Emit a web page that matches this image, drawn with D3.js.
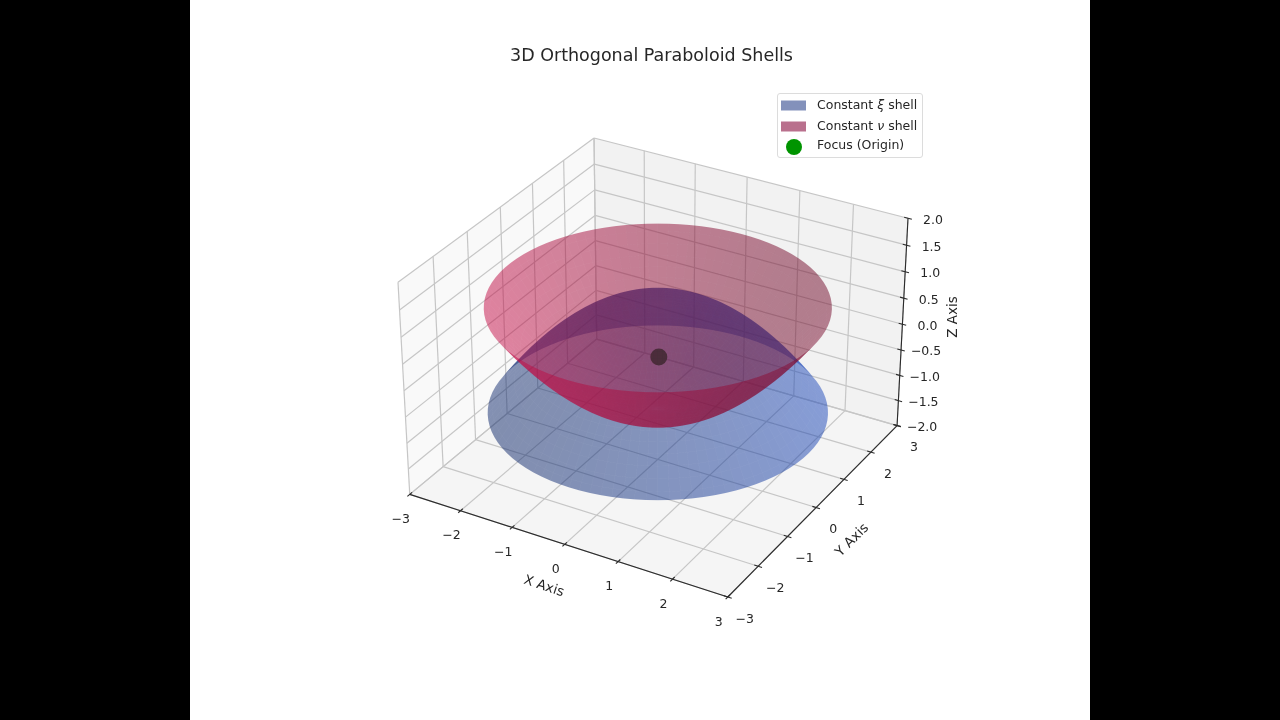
<!DOCTYPE html>
<html>
<head>
<meta charset="utf-8">
<script src="https://cdn.jsdelivr.net/npm/d3@7"></script>
<style>
  html, body { margin: 0; padding: 0; background: #000; }
  svg { display: block; filter: blur(0.4px); }
  text { font-family: "DejaVu Sans", sans-serif; fill: #262626; }
  #shells { position: absolute; left: 0; top: 0; filter: blur(0.3px); pointer-events: none; }
</style>
</head>
<body>
<svg id="chart" width="1280" height="720"></svg>
<canvas id="shells" width="1280" height="720"></canvas>
<script>
// values
const xTicks = [-3, -2, -1, 0, 1, 2, 3];
const yTicks = [-3, -2, -1, 0, 1, 2, 3];
const zTicks = [-2, -1.5, -1, -0.5, 0, 0.5, 1, 1.5, 2];

// shell profiles: height at each radius
const shellRadii = [0, 0.125, 0.25, 0.375, 0.5, 0.625, 0.75, 0.875, 1, 1.125, 1.25, 1.375, 1.5,
  1.625, 1.75, 1.875, 2, 2.125, 2.25, 2.375, 2.5, 2.625, 2.75, 2.828];
const xiShellZ = [1, 0.996, 0.984, 0.965, 0.938, 0.902, 0.859, 0.809, 0.75, 0.684, 0.609, 0.527, 0.438,
  0.34, 0.234, 0.121, 0, -0.129, -0.266, -0.41, -0.563, -0.723, -0.891, -1];
const nuShellZ = [-1, -0.996, -0.984, -0.965, -0.938, -0.902, -0.859, -0.809, -0.75, -0.684, -0.609, -0.527, -0.438,
  -0.34, -0.234, -0.121, 0, 0.129, 0.266, 0.41, 0.563, 0.723, 0.891, 1];
const focusPoint = [0, 0, 0];

const svg = d3.select("#chart");
svg.append("rect").attr("x", 190).attr("y", 0).attr("width", 900).attr("height", 720).attr("fill", "#fff");

// camera, close to a default 3d axes but a bit higher and with a flatter box
const elev = 32 * Math.PI / 180, azim = -60 * Math.PI / 180, dist = 10;
const boxNorm = 1.9057 / Math.sqrt(41);
const box = [4 * boxNorm, 4 * boxNorm, 2.88 * boxNorm];
const nx = d3.scaleLinear().domain([-3, 3]).range([0, box[0]]);
const ny = d3.scaleLinear().domain([-3, 3]).range([0, box[1]]);
const nz = d3.scaleLinear().domain([-2, 2]).range([0, box[2]]);
const mid = box.map(d => d / 2);
const w = [Math.cos(elev) * Math.cos(azim), Math.cos(elev) * Math.sin(azim), Math.sin(elev)];
const eye = mid.map((d, i) => d + dist * w[i]);
const cross = (a, b) => [a[1] * b[2] - a[2] * b[1], a[2] * b[0] - a[0] * b[2], a[0] * b[1] - a[1] * b[0]];
const dot = (a, b) => a[0] * b[0] + a[1] * b[1] + a[2] * b[2];
const unit = a => { const n = Math.hypot(...a); return a.map(d => d / n); };
const u = unit(cross([0, 0, 1], w));
const v = cross(w, u);

function view(p) {
  const q = [nx(p[0]) - eye[0], ny(p[1]) - eye[1], nz(p[2]) - eye[2]];
  const depth = -dot(q, w);
  return { sx: dot(q, u) / depth, sy: dot(q, v) / depth, depth };
}

// screen scales pinned on the box corners seen in the picture
const sxScale = d3.scaleLinear()
  .domain([view([-3, -3, 2]).sx, view([3, 3, 2]).sx]).range([398, 908]);
const syScale = d3.scaleLinear()
  .domain([view([3, -3, -2]).sy, view([-3, 3, 2]).sy]).range([597, 138]);
const project = p => { const c = view(p); return [sxScale(c.sx), syScale(c.sy)]; };
const lineGen = d3.line();
const polyPath = pts => lineGen(pts.map(project)) + "Z";

// panes
const panes = [
  { fill: "#f9f9f9", pts: [[-3, -3, -2], [-3, 3, -2], [-3, 3, 2], [-3, -3, 2]] },
  { fill: "#f2f2f2", pts: [[-3, 3, -2], [3, 3, -2], [3, 3, 2], [-3, 3, 2]] },
  { fill: "#f5f5f5", pts: [[-3, -3, -2], [3, -3, -2], [3, 3, -2], [-3, 3, -2]] }
];
svg.append("g").selectAll("path").data(panes).join("path")
  .attr("d", d => polyPath(d.pts)).attr("fill", d => d.fill);

// grid
const gridSegs = [];
xTicks.forEach(x => {
  gridSegs.push([[x, -3, -2], [x, 3, -2]], [[x, 3, -2], [x, 3, 2]]);
});
yTicks.forEach(y => {
  gridSegs.push([[-3, y, -2], [3, y, -2]], [[-3, y, -2], [-3, y, 2]]);
});
zTicks.forEach(z => {
  gridSegs.push([[-3, -3, z], [-3, 3, z]], [[-3, 3, z], [3, 3, z]]);
});
svg.append("g").selectAll("path").data(gridSegs).join("path")
  .attr("d", d => lineGen(d.map(project)))
  .attr("fill", "none").attr("stroke", "#c6c6c6").attr("stroke-width", 1.2);

// axis lines and ticks
const axisSegs = [
  [[-3, -3, -2], [3, -3, -2]],
  [[3, -3, -2], [3, 3, -2]],
  [[3, 3, -2], [3, 3, 2]]
];
const tickLen = 0.07;
xTicks.forEach(x => axisSegs.push([[x, -3 + tickLen, -2], [x, -3 - tickLen, -2]]));
yTicks.forEach(y => axisSegs.push([[3 - tickLen, y, -2], [3 + tickLen, y, -2]]));
zTicks.forEach(z => axisSegs.push([[3 - tickLen, 3, z], [3 + tickLen, 3, z]]));
svg.append("g").selectAll("path").data(axisSegs).join("path")
  .attr("d", d => lineGen(d.map(project)))
  .attr("fill", "none").attr("stroke", "#2b2b2b").attr("stroke-width", 1.1);

// focus point sits under both shells
const focusXY = project(focusPoint);
svg.append("circle").attr("cx", focusXY[0] + 1).attr("cy", focusXY[1]).attr("r", 8.5).attr("fill", "#006e00");

// shells
const lightDir = [-0.667, -0.667, 0.333];
const angles = d3.range(97).map(i => i / 96 * 2 * Math.PI);

function shellFaces(zs, base) {
  const faces = [];
  const col = d3.rgb(base);
  for (let i = 0; i < shellRadii.length - 1; i++) {
    for (let j = 0; j < angles.length - 1; j++) {
      const pt = (a, b) => [shellRadii[a] * Math.cos(angles[b]), shellRadii[a] * Math.sin(angles[b]), zs[a]];
      const pts = [pt(i, j), pt(i + 1, j), pt(i + 1, j + 1), pt(i, j + 1)];
      let n = unit(cross(
        pts[2].map((d, k) => d - pts[0][k]),
        pts[3].map((d, k) => d - pts[1][k])
      ));
      if (n[2] > 0) n = n.map(d => -d); // both shells have normals facing down
      const f = 0.5 + 0.5 * (dot(n, lightDir) + 1) / 2;
      const depth = d3.mean(pts, p => view(p).depth);
      faces.push({ pts, depth, fill: d3.rgb(col.r * f, col.g * f, col.b * f).formatHex() });
    }
  }
  return faces.sort((a, b) => b.depth - a.depth);
}

// faces go on a 4x canvas, halved twice, so seams and rims come out smooth
function makeCanvas(scale) {
  const c = document.createElement("canvas");
  c.width = 1280 * scale;
  c.height = 720 * scale;
  return c;
}
const big = makeCanvas(4);
const ctx = big.getContext("2d");
ctx.scale(4, 4);
function drawShell(zs, base, opacity) {
  ctx.globalAlpha = opacity;
  shellFaces(zs, base).forEach(d => {
    ctx.fillStyle = d.fill;
    ctx.fill(new Path2D(polyPath(d.pts)));
  });
}
drawShell(xiShellZ, "#1c4ed0", 0.5);
drawShell(nuShellZ, "#dc0e4e", 0.5);

const half = makeCanvas(2);
const halfCtx = half.getContext("2d");
halfCtx.imageSmoothingQuality = "high";
halfCtx.drawImage(big, 0, 0, half.width, half.height);
const finalCtx = document.getElementById("shells").getContext("2d");
finalCtx.imageSmoothingQuality = "high";
finalCtx.drawImage(half, 0, 0, 1280, 720);

// tick labels
const fmtMinus = s => String(s).replace("-", "\u2212");
const labels = [];
xTicks.forEach(x => { const p = project([x, -3, -2]); labels.push({ t: fmtMinus(x), x: p[0] - 9, y: p[1] + 25 }); });
yTicks.forEach(y => { const p = project([3, y, -2]); labels.push({ t: fmtMinus(y), x: p[0] + 17, y: p[1] + 22 }); });
zTicks.forEach(z => { const p = project([3, 3, z]); labels.push({ t: fmtMinus(z.toFixed(1)), x: p[0] + 25, y: p[1] + 2 }); });
svg.append("g").selectAll("text").data(labels).join("text")
  .attr("x", d => d.x).attr("y", d => d.y)
  .attr("text-anchor", "middle").attr("dominant-baseline", "middle")
  .attr("font-size", 12.5).text(d => d.t);

// axis titles
const axisTitles = [
  { t: "X Axis", x: 544, y: 586, r: 18.5 },
  { t: "Y Axis", x: 852, y: 540, r: -45 },
  { t: "Z Axis", x: 953, y: 317, r: -90 }
];
svg.append("g").selectAll("text").data(axisTitles).join("text")
  .attr("transform", d => `translate(${d.x},${d.y}) rotate(${d.r})`)
  .attr("text-anchor", "middle").attr("dominant-baseline", "middle")
  .attr("font-size", 13.5).text(d => d.t);

svg.append("text").attr("x", 651.5).attr("y", 56)
  .attr("text-anchor", "middle").attr("dominant-baseline", "middle")
  .attr("font-size", 17.5).text("3D Orthogonal Paraboloid Shells");

// legend
const legend = svg.append("g");
legend.append("rect").attr("x", 777.5).attr("y", 93.5).attr("width", 145).attr("height", 64).attr("rx", 2.5)
  .attr("fill", "#fff").attr("fill-opacity", 0.8).attr("stroke", "#dcdcdc");
legend.append("rect").attr("x", 781).attr("y", 100.5).attr("width", 25).attr("height", 10).attr("fill", "#8391bb");
legend.append("rect").attr("x", 781).attr("y", 121.5).attr("width", 25).attr("height", 10).attr("fill", "#b9708d");
legend.append("circle").attr("cx", 794).attr("cy", 147).attr("r", 8).attr("fill", "#009400");
const legendRows = [
  { pre: "Constant ", sym: "\u03be", post: " shell", y: 105 },
  { pre: "Constant ", sym: "\u03bd", post: " shell", y: 126 },
  { pre: "Focus (Origin)", sym: "", post: "", y: 145 }
];
const rows = legend.selectAll("text").data(legendRows).join("text")
  .attr("x", 817).attr("y", d => d.y).attr("dominant-baseline", "middle").attr("font-size", 12.5);
rows.append("tspan").text(d => d.pre);
rows.append("tspan").attr("font-style", "italic").text(d => d.sym);
rows.append("tspan").text(d => d.post);
</script>
</body>
</html>
